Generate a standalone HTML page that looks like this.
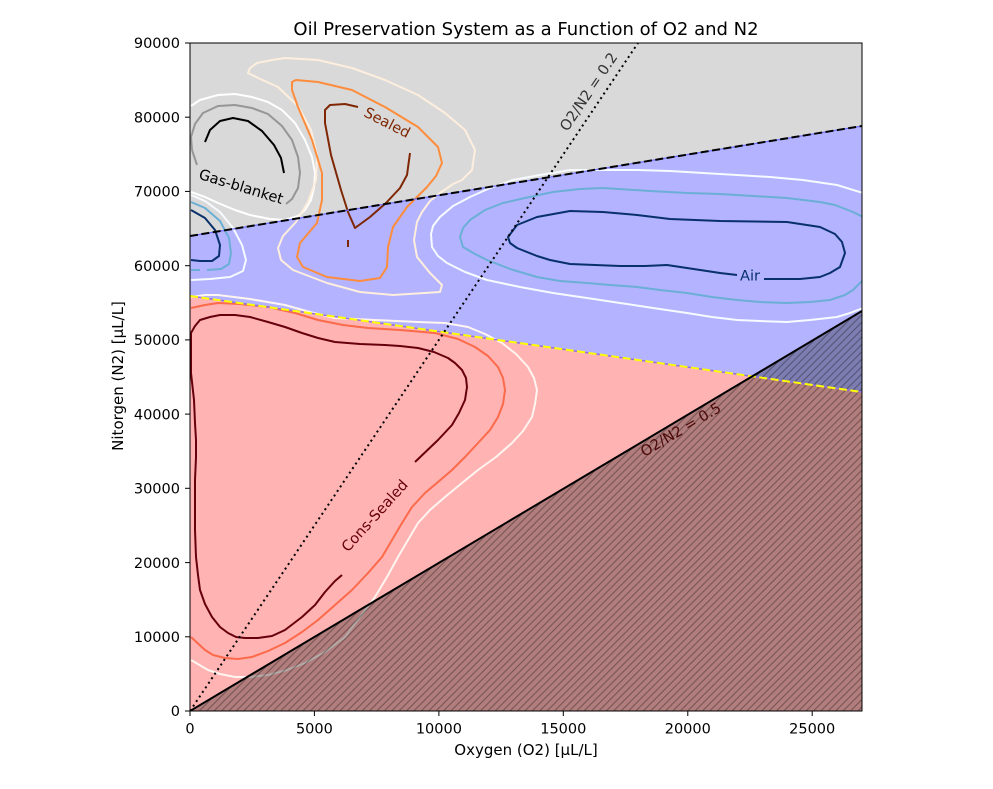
<!DOCTYPE html>
<html><head><meta charset="utf-8"><style>
html,body{margin:0;padding:0;background:#fff;}
svg{display:block;}
text{font-family:"DejaVu Sans","Liberation Sans",sans-serif;}
</style></head><body>
<svg width="993" height="789" viewBox="0 0 993 789" xmlns="http://www.w3.org/2000/svg">
<defs>
<clipPath id="ax"><rect x="190" y="43" width="672" height="668"/></clipPath>
<pattern id="h" patternUnits="userSpaceOnUse" width="7.4" height="7.4">
<path d="M-1,1 L1,-1 M0,7.4 L7.4,0 M6.4,8.4 L8.4,6.4" stroke="rgba(0,0,0,0.35)" stroke-width="1"/>
</pattern>
</defs>
<rect width="993" height="789" fill="#fff"/>
<g clip-path="url(#ax)">
<polygon points="190,43 862,43 862,126 190,236" fill="#d9d9d9"/>
<polygon points="190,236 862,126 862,392 190,296" fill="#b3b3ff"/>
<polygon points="190,296 862,392 862,711 190,711" fill="#ffb3b3"/>

<g fill="none" stroke-width="2" stroke-linejoin="round" stroke-linecap="butt">
<!-- Gas-blanket -->
<path stroke="#ffffff" d="M191,106 L200,100 L218,95 L235,94 L252,97 L268,102 L282,110 L295,123 L305,140 L312,157 L315,173 L314,188 L311,200 L305,210 L298,216 L285,220 L270,219 L250,215 L235,210 L218,203 L205,197 L191,192"/>
<path stroke="#969696" d="M197,165 L192,150 L191,137 L195,124 L203,113 L218,106 L235,105 L252,108 L268,114 L282,126 L292,140 L298,157 L300,173 L298,188 L292,199 L286,204"/>
<path stroke="#000000" d="M205,142 L210,130 L220,121 L233,118 L248,121 L262,131 L274,145 L281,158 L284,173"/>
<!-- Sealed -->
<path stroke="#feeede" d="M248,73 L250,68 L257,63 L272,60 L285,58 L318,60 L352,68 L385,80 L418,95 L445,113 L465,130 L475,150 L472,170 L462,180 L453,184 L440,193 L430,201 L422,212 L417,222 L414,240 L417,257 L430,273 L442,285 L440,292 L393,295 L360,292 L327,283 L293,270 L281,260 L278,248 L283,236 L296,222 L308,202 L316,180 L317,155 L311,130 L298,106 L278,87 L258,78 Z"/>
<path stroke="#fd8d3c" d="M292,82 L296,80 L318,82 L352,90 L385,107 L418,127 L438,147 L442,163 L436,176 L427,187 L407,207 L393,227 L388,247 L387,267 L380,278 L360,281 L327,277 L303,267 L297,257 L300,243 L317,223 L322,200 L322,173 L312,140 L298,107 L292,90 Z"/>
<path stroke="#7f2704" d="M358,107 L345,104 L330,105 L325,110 L325,123 L331,155 L341,190 L348,212 L355,228 L370,217 L386,203 L400,188 L407,175 L410,153"/>
<path stroke="#7f2704" d="M348,240 L348,247"/>
<!-- Air left -->
<path stroke="#f7fbff" d="M191,195 L205,201 L220,212 L233,228 L242,245 L246,260 L243,271 L230,277 L210,279 L191,280"/>
<path stroke="#6baed6" d="M191,202 L205,208 L220,221 L229,238 L231,253 L229,264 L221,269 L207,270 M200,270 L191,270"/>
<path stroke="#08306b" d="M191,210 L205,218 L215,230 L220,245 L219,256 L212,261 L200,261 L191,260"/>
<!-- Air right -->
<path stroke="#f7fbff" d="M863,193 L837,185 L803,180 L770,177 L737,175 L703,173 L670,171 L637,170 L603,170 L570,170 L540,175 L513,180 L490,188 L470,197 L453,206 L440,217 L433,226 L431,234 L432,247 L438,256 L447,263 L465,272 L487,280 L520,287 L553,293 L587,298 L620,303 L653,308 L687,313 L712,317 L737,320 L760,321 L787,322 L810,320 L837,317 L850,313 L863,308"/>
<path stroke="#6baed6" d="M863,217 L853,212 L835,205 L820,202 L787,198 L753,196 L720,194 L687,193 L650,191 L603,188 L580,189 L553,192 L525,198 L503,203 L485,210 L470,220 L463,228 L460,237 L463,247 L475,254 L487,260 L510,269 L537,277 L560,281 L587,283 L610,285 L637,287 L660,290 L687,293 L712,297 L737,300 L760,302 L787,303 L810,302 L830,300 L845,295 L853,290 L863,280"/>
<path stroke="#08306b" d="M764,279 L787,279 L800,279 L820,277 L830,273 L840,267 L845,253 L842,242 L835,234 L820,227 L787,222 L720,221 L670,219 L637,215 L603,212 L570,211 L537,217 L517,225 L508,237 L510,243 L517,248 L537,256 L550,260 L570,264 L595,265 L620,266 L645,266 L667,265 L687,268 L720,273 L737,275"/>
<!-- Cons-Sealed -->
<path stroke="#fff5f0" d="M191,297 L205,295 L218,295 L250,299 L285,305 L310,312 L335,318 L375,320 L418,322 L445,323 L468,327 L485,334 L502,343 L516,354 L528,367 L534,378 L537,390 L535,404 L532,417 L523,431 L512,443 L496,457 L478,470 L462,483 L445,497 L430,510 L418,523 L408,540 L398,557 L387,577 L375,597 L360,617 L345,637 L325,652 L305,663 L287,670 L268,675 L250,677 L235,677 L220,674 L208,670 L191,660"/>
<path stroke="#fb6a4a" d="M191,308 L205,305 L218,303 L240,304 L268,307 L295,313 L318,320 L343,325 L368,328 L400,330 L435,333 L458,339 L475,347 L488,356 L498,367 L503,378 L505,390 L503,404 L498,417 L490,430 L478,443 L465,457 L452,470 L438,482 L425,493 L412,507 L402,523 L392,540 L382,557 L368,573 L352,590 L335,605 L318,620 L302,632 L285,643 L268,651 L252,657 L238,659 L225,658 L213,655 L205,650 L191,637"/>
<path stroke="#67000d" d="M415,462 L438,440 L452,425 L459,413 L465,400 L467,387 L466,378 L462,370 L455,363 L448,358 L434,352 L418,348 L400,346 L385,345 L360,344 L335,342 L318,338 L302,333 L285,327 L268,322 L250,317 L235,315 L220,315 L210,317 L200,320 L195,326 L191,333 L191,373 L194,400 L195,423 L196,440 L196,457 L195,480 L195,507 L195,530 L196,557 L198,575 L200,590 L205,604 L212,617 L220,627 L228,633 L236,637 L245,638 L258,638 L272,636 L285,630 L302,617 L315,605 L325,592 L335,581 L342,575"/>
</g>

<!-- hatched infeasible region -->
<polygon points="190,711 862,311 862,711" fill="rgba(0,0,0,0.3)"/>
<polygon points="190,711 862,311 862,711" fill="url(#h)"/>

<!-- boundary lines -->
<line x1="190" y1="236" x2="862" y2="126" stroke="#7070ff" stroke-width="1.2"/>
<line x1="190" y1="236" x2="862" y2="126" stroke="#000" stroke-width="2" stroke-dasharray="8,3.5"/>
<line x1="190" y1="296" x2="862" y2="392" stroke="#9370db" stroke-width="1.5"/>
<line x1="190" y1="296" x2="862" y2="392" stroke="#ffff00" stroke-width="2" stroke-dasharray="8,3.5"/>
<line x1="190" y1="711" x2="638" y2="43" stroke="#000" stroke-width="2" stroke-dasharray="2,3.5"/>
<line x1="190" y1="711" x2="862" y2="311" stroke="#000" stroke-width="2"/>

<!-- labels -->
<text x="241" y="187" font-size="14.6" fill="#000" text-anchor="middle" dominant-baseline="central" transform="rotate(17 241 187)">Gas-blanket</text>
<text x="387" y="123" font-size="14.6" fill="#7f2704" text-anchor="middle" dominant-baseline="central" transform="rotate(27 387 123)">Sealed</text>
<text x="750" y="276" font-size="14.6" fill="#08306b" text-anchor="middle" dominant-baseline="central">Air</text>
<text x="375" y="516" font-size="14.6" fill="#67000d" text-anchor="middle" dominant-baseline="central" transform="rotate(-48 375 516)">Cons-Sealed</text>
<text x="589" y="92" font-size="14.6" fill="#333" text-anchor="middle" dominant-baseline="central" transform="rotate(-56 589 92)">O2/N2 = 0.2</text>
<text x="681" y="430" font-size="14.6" fill="#4a0808" text-anchor="middle" dominant-baseline="central" transform="rotate(-30.8 681 430)">O2/N2 = 0.5</text>
</g>

<!-- frame -->
<rect x="190" y="43" width="672" height="668" fill="none" stroke="#000" stroke-width="1"/>

<!-- ticks -->
<g stroke="#000" stroke-width="1">
<line x1="190" y1="711" x2="190" y2="716"/>
<line x1="314.4" y1="711" x2="314.4" y2="716"/>
<line x1="438.9" y1="711" x2="438.9" y2="716"/>
<line x1="563.3" y1="711" x2="563.3" y2="716"/>
<line x1="687.8" y1="711" x2="687.8" y2="716"/>
<line x1="812.2" y1="711" x2="812.2" y2="716"/>
<line x1="185" y1="711" x2="190" y2="711"/>
<line x1="185" y1="636.8" x2="190" y2="636.8"/>
<line x1="185" y1="562.6" x2="190" y2="562.6"/>
<line x1="185" y1="488.3" x2="190" y2="488.3"/>
<line x1="185" y1="414.1" x2="190" y2="414.1"/>
<line x1="185" y1="339.9" x2="190" y2="339.9"/>
<line x1="185" y1="265.7" x2="190" y2="265.7"/>
<line x1="185" y1="191.4" x2="190" y2="191.4"/>
<line x1="185" y1="117.2" x2="190" y2="117.2"/>
<line x1="185" y1="43" x2="190" y2="43"/>
</g>
<g font-size="14.5" fill="#000" text-anchor="middle">
<text x="190" y="733.5">0</text>
<text x="314.4" y="733.5">5000</text>
<text x="438.9" y="733.5">10000</text>
<text x="563.3" y="733.5">15000</text>
<text x="687.8" y="733.5">20000</text>
<text x="812.2" y="733.5">25000</text>
</g>
<g font-size="14.5" fill="#000" text-anchor="end">
<text x="180" y="716.2">0</text>
<text x="180" y="642">10000</text>
<text x="180" y="567.8">20000</text>
<text x="180" y="493.5">30000</text>
<text x="180" y="419.3">40000</text>
<text x="180" y="345.1">50000</text>
<text x="180" y="270.9">60000</text>
<text x="180" y="196.6">70000</text>
<text x="180" y="122.4">80000</text>
<text x="180" y="48.2">90000</text>
</g>
<text x="526" y="755" font-size="15" fill="#000" text-anchor="middle">Oxygen (O2) [μL/L]</text>
<text x="123" y="376" font-size="15" fill="#000" text-anchor="middle" transform="rotate(-90 123 376)">Nitorgen (N2) [μL/L]</text>
<text x="526" y="35" font-size="18" fill="#000" text-anchor="middle">Oil Preservation System as a Function of O2 and N2</text>
</svg>
</body></html>
